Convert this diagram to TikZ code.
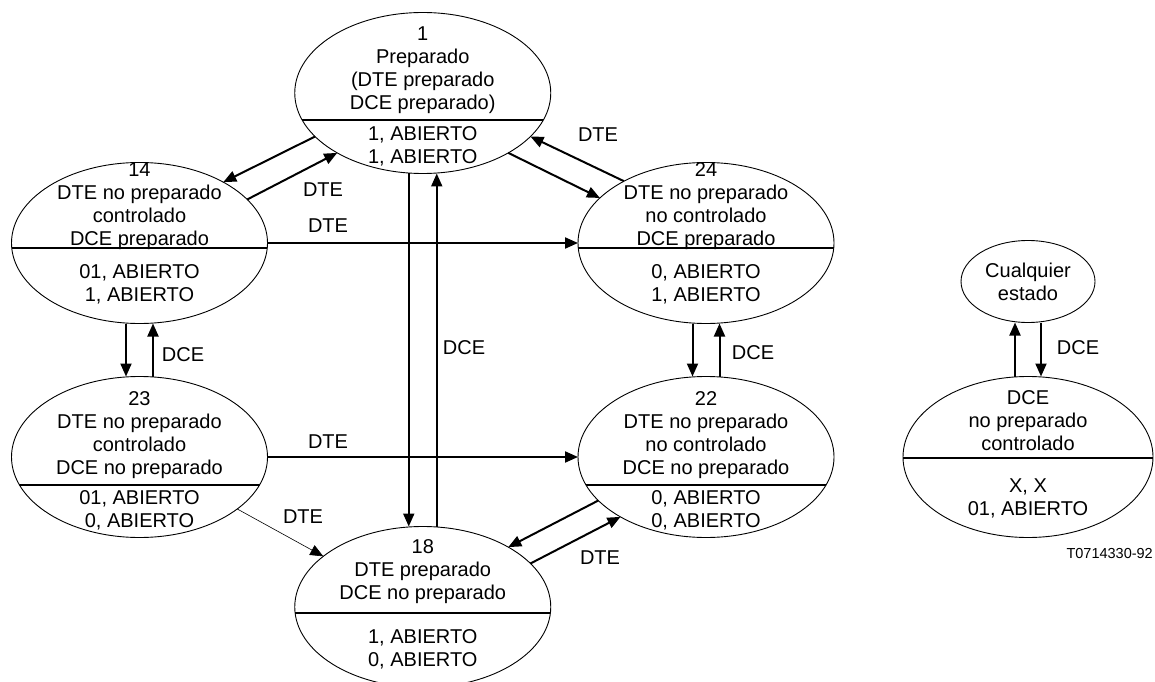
\documentclass[tikz,border=0pt]{standalone}
\usepackage{fontspec}
\setmainfont{Liberation Sans}
\usetikzlibrary{arrows.meta, positioning, calc, shapes.geometric}

\begin{document}
\begin{tikzpicture}[
  x=1pt, y=1pt,
  state/.style={ellipse, draw, line width=0.9pt, inner sep=0pt, outer sep=0pt,
                minimum width=256pt, minimum height=161pt,
                path picture={\draw[line width=2pt]
                  ([yshift=#1]path picture bounding box.west) --
                  ([yshift=#1]path picture bounding box.east);}},
  txt/.style={align=center, inner sep=0pt, font=\fontsize{20}{23}\selectfont},
  arr/.style={-{Triangle[length=13pt, width=11pt]}, line width=2pt},
  thinarr/.style={arr, line width=0.6pt}
]
  \useasboundingbox (0,0) rectangle (1155,681);

  % States
  \node[state=-5.5pt] (s14) at (139.5,438) {};
  \node[state=-5.5pt, right=310.5pt of s14] (s24) {};
  \node[state=-28pt, below=53pt of s14] (s23) {};
  \node[state=-28pt, below=53pt of s24] (s22) {};
  \node[state=-27pt] (s1) at ($(s14)!0.5!(s24)+(0,150)$) {};
  \node[state=-6pt] (s18) at ($(s23)!0.5!(s22)+(0,-150)$) {};
  \node[state=-1pt, minimum width=250pt, right=69pt of s22] (sdce) {};
  \node[ellipse, draw, line width=0.9pt, inner sep=0pt, outer sep=0pt,
        minimum width=134pt, minimum height=82pt, txt,
        above=54pt of sdce] (sany) {Cualquier\\estado};

  % State texts
  \node[txt] (t1a) at ([yshift=23pt]s1.center) {1\\Preparado\\(DTE preparado\\DCE preparado)};
  \node[txt] (t1b) at ([yshift=-53pt]s1.center) {1, ABIERTO\\1, ABIERTO};
  \node[txt] (t14a) at ([yshift=37pt]s14.center) {14\\DTE no preparado\\controlado\\DCE preparado};
  \node[txt] (t14b) at ([yshift=-41pt]s14.center) {01, ABIERTO\\1, ABIERTO};
  \node[txt] (t24a) at ([yshift=37pt]s24.center) {24\\DTE no preparado\\no controlado\\DCE preparado};
  \node[txt] (t24b) at ([yshift=-41pt]s24.center) {0, ABIERTO\\1, ABIERTO};
  \node[txt] (t23a) at ([yshift=21.5pt]s23.center) {23\\DTE no preparado\\controlado\\DCE no preparado};
  \node[txt] (t23b) at ([yshift=-53pt]s23.center) {01, ABIERTO\\0, ABIERTO};
  \node[txt] (t22a) at ([yshift=22pt]s22.center) {22\\DTE no preparado\\no controlado\\DCE no preparado};
  \node[txt] (t22b) at ([yshift=-53pt]s22.center) {0, ABIERTO\\0, ABIERTO};
  \node[txt] (t18a) at ([yshift=35pt]s18.center) {18\\DTE preparado\\DCE no preparado};
  \node[txt] (t18b) at ([yshift=-42pt]s18.center) {1, ABIERTO\\0, ABIERTO};
  \node[txt] (tdcea) at ([yshift=36pt]sdce.center) {DCE\\no preparado\\controlado};
  \node[txt] (tdceb) at ([yshift=-41pt]sdce.center) {X, X\\01, ABIERTO};

  % Arrows
  \draw[arr] (s1.202) -- (s14.36);
  \draw[arr] (s14.22) -- (s1.215);
  \draw[arr] (s1.325) -- (s24.157);
  \draw[arr] (s24.143) -- (s1.338);
  \draw[arr] (s14.east) -- (s24.west);
  \draw[arr] (s23.east) -- (s22.west);
  \draw[arr] ([xshift=-14pt]s1.south) -- ([xshift=-14pt]s18.north);
  \draw[arr] ([xshift=14pt]s18.north) -- ([xshift=14pt]s1.south);
  \draw[arr] ([xshift=-13.5pt]s14.south) -- ([xshift=-13.5pt]s23.north);
  \draw[arr] ([xshift=13.5pt]s23.north) -- ([xshift=13.5pt]s14.south);
  \draw[arr] ([xshift=-13.5pt]s24.south) -- ([xshift=-13.5pt]s22.north);
  \draw[arr] ([xshift=13.5pt]s22.north) -- ([xshift=13.5pt]s24.south);
  \draw[thinarr] (s23.332) -- (s18.153);
  \draw[arr] (s22.202) -- (s18.35);
  \draw[arr] (s18.22) -- (s22.215);
  \draw[arr] ([xshift=-13pt]sdce.north) -- ([xshift=-13pt]sany.south);
  \draw[arr] ([xshift=13pt]sany.south) -- ([xshift=13pt]sdce.north);

  % Labels
  \node[txt] (l1) at (323,491) {DTE};
  \node[txt] (l2) at (598,546) {DTE};
  \node[txt] (l3) at (328,455) {DTE};
  \node[txt] (l4) at (183,326) {DCE};
  \node[txt] (l5) at (464,333) {DCE};
  \node[txt] (l6) at (753,328) {DCE};
  \node[txt] (l7) at (328,239) {DTE};
  \node[txt] (l8) at (303,164) {DTE};
  \node[txt] (l9) at (600,123) {DTE};
  \node[txt] (l10) at (1078,333) {DCE};
  \node[anchor=east, inner sep=0pt, font=\fontsize{14.5}{16}\selectfont] (code) at (1153,127) {T0714330-92};
\end{tikzpicture}
\end{document}
